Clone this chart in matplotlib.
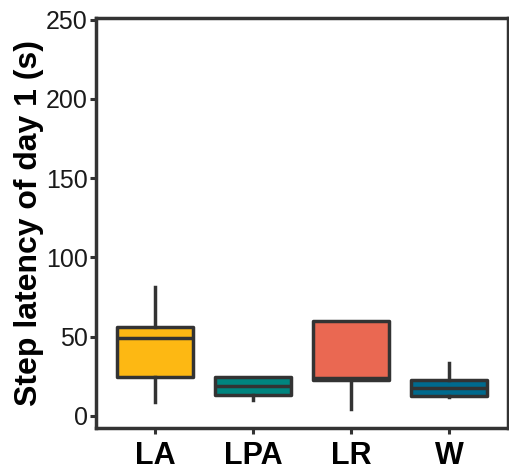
import matplotlib.pyplot as plt

groups = ['LA', 'LPA', 'LR', 'W']
whis_lo = [8.8, 10.0, 4.4, 12.2]
q1 = [24.6, 13.3, 22.7, 12.6]
med = [49.2, 19.0, 24.0, 17.8]
q3 = [56.2, 24.6, 60.0, 22.7]
whis_hi = [81.4, 24.6, 60.0, 33.5]
colors = ['#FDB813', '#00857F', '#EA6852', '#006A8E']

edge = '#333333'

if __name__ == '__main__':
    plt.rcParams['font.family'] = ['Liberation Sans', 'DejaVu Sans']
    fig = plt.figure(figsize=(5.09, 4.69), dpi=100)
    ax = fig.add_axes([0.1886, 0.0874, 0.8094, 0.8742])

    stats = []
    for i, g in enumerate(groups):
        stats.append({'label': g, 'whislo': whis_lo[i], 'q1': q1[i], 'med': med[i],
                      'q3': q3[i], 'whishi': whis_hi[i], 'fliers': []})

    bp = ax.bxp(stats, positions=range(1, 5), widths=0.78, patch_artist=True,
                showcaps=False, showfliers=False,
                boxprops={'edgecolor': edge, 'linewidth': 2.5},
                medianprops={'color': edge, 'linewidth': 2.5, 'solid_capstyle': 'butt'},
                whiskerprops={'color': edge, 'linewidth': 2.5})
    for patch, c in zip(bp['boxes'], colors):
        patch.set_facecolor(c)
        patch.set_joinstyle('round')

    ax.set_xlim(0.4, 4.6)
    ax.set_ylim(-7.6, 251)
    ax.set_yticks([0, 50, 100, 150, 200, 250])
    ax.set_xticks(range(1, 5))
    ax.set_xticklabels(groups, fontsize=22, fontweight='bold', color='black')
    ax.tick_params(axis='y', labelsize=18, labelcolor='#1a1a1a', length=4, width=2.2, color=edge, pad=2)
    ax.tick_params(axis='x', length=4, width=2.2, color=edge, pad=5)
    for s in ax.spines.values():
        s.set_color(edge)
        s.set_linewidth(2.5)
    ax.set_ylabel('Step latency of day 1 (s)', fontsize=23, fontweight='bold', labelpad=1)

    fig.savefig('out.png', dpi=100)
